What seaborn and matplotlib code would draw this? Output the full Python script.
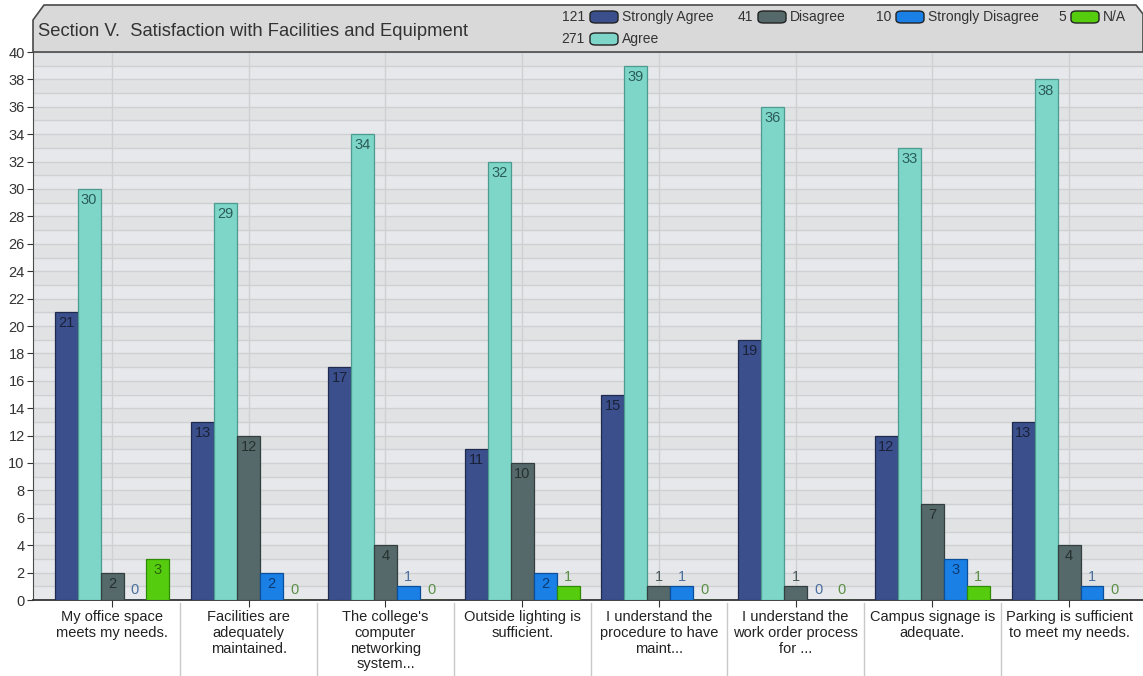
import matplotlib
matplotlib.use("Agg")
import matplotlib.pyplot as plt
import matplotlib.transforms as mtransforms
from matplotlib.patches import Polygon, FancyBboxPatch
import seaborn as sns
import pandas as pd

# data
categories = [
    "My office space\nmeets my needs.",
    "Facilities are\nadequately\nmaintained.",
    "The college's\ncomputer\nnetworking\nsystem...",
    "Outside lighting is\nsufficient.",
    "I understand the\nprocedure to have\nmaint...",
    "I understand the\nwork order process\nfor ...",
    "Campus signage is\nadequate.",
    "Parking is sufficient\nto meet my needs.",
]
series = ["Strongly Agree", "Agree", "Disagree", "Strongly Disagree", "N/A"]
strongly_agree = [21, 13, 17, 11, 15, 19, 12, 13]
agree = [30, 29, 34, 32, 39, 36, 33, 38]
disagree = [2, 12, 4, 10, 1, 1, 7, 4]
strongly_disagree = [0, 2, 1, 2, 1, 0, 3, 1]
na = [3, 0, 0, 1, 0, 0, 1, 0]
title = "Section V.  Satisfaction with Facilities and Equipment"

values = dict(zip(series, [strongly_agree, agree, disagree, strongly_disagree, na]))
rows = []
for s in series:
    for c, v in zip(categories, values[s]):
        rows.append({"question": c, "response": s, "count": v})
df = pd.DataFrame(rows)

colors = {"Strongly Agree": "#3a4f8c", "Agree": "#7dd6c8", "Disagree": "#56696a",
          "Strongly Disagree": "#1a80e6", "N/A": "#55cc0e"}
edges = {"Strongly Agree": "#1f2a4e", "Agree": "#4c9a90", "Disagree": "#333f3f",
         "Strongly Disagree": "#0b4f9a", "N/A": "#2f8a05"}
inside_txt = {"Strongly Agree": "#1a2138", "Agree": "#2c5c58", "Disagree": "#26302f",
              "Strongly Disagree": "#0a3a74", "N/A": "#2a6508"}
outside_txt = {"Strongly Agree": "#3a4f8c", "Agree": "#3f8a80", "Disagree": "#4a5857",
               "Strongly Disagree": "#4a6e9e", "N/A": "#5b8f45"}

plt.rcParams['font.family'] = ['Liberation Sans', 'DejaVu Sans']

W, H = 1143, 676
fig = plt.figure(figsize=(W / 100, H / 100), dpi=100)
fig.patch.set_facecolor("white")


def fx(x):
    return x / W


def fy(y):
    return 1 - y / H


# header band with bevelled corners
hdr = [(33, 52), (33, 20), (44, 5), (1136, 5), (1143, 14), (1143, 52)]
fig.patches.append(Polygon([(fx(x), fy(y)) for x, y in hdr], closed=True,
                           transform=fig.transFigure, facecolor="#d9d9d9",
                           edgecolor="#4a4a4a", lw=1.2, zorder=0))
fig.text(fx(38), fy(31), title, fontsize=13.2, color="#333333", va="center", ha="left")

# legend in header
totals = {s: sum(values[s]) for s in series}
legend_pos = {"Strongly Agree": (585, 17), "Disagree": (753, 17),
              "Strongly Disagree": (891, 17), "N/A": (1066, 17), "Agree": (585, 39)}
for s in series:
    x, y = legend_pos[s]
    fig.text(fx(x), fy(y), str(totals[s]), fontsize=10, color="#333333",
             ha="right", va="center")
    fig.patches.append(FancyBboxPatch((fx(x + 5), fy(y + 6)), fx(28), 12 / H,
                                      boxstyle="round,pad=0,rounding_size=0.005",
                                      transform=fig.transFigure, facecolor=colors[s],
                                      edgecolor="#222222", lw=1.0, zorder=2))
    fig.text(fx(x + 37), fy(y), s, fontsize=10, color="#333333", ha="left", va="center")

ax = fig.add_axes([fx(33), fy(600), fx(1110), 548 / H])
ax.set_facecolor("#e4e6e9")
for k in range(40):
    ax.axhspan(k, k + 1, color="#e6e8eb" if k % 2 == 0 else "#e1e2e4", lw=0, zorder=0)

sns.barplot(data=df, x="question", y="count", hue="response", order=categories,
            hue_order=series, palette=colors, width=0.84, saturation=1,
            legend=False, ax=ax, zorder=3)

for cont, s in zip(ax.containers, series):
    for bar, v in zip(cont, values[s]):
        bar.set_edgecolor(edges[s])
        bar.set_linewidth(0.9)
        xc = bar.get_x() + bar.get_width() / 2
        if v >= 2:
            ax.annotate(str(v), (xc, v), xytext=(0, -3), textcoords="offset points",
                        ha="center", va="top", fontsize=10.5, color=inside_txt[s], zorder=5)
        else:
            ax.annotate(str(v), (xc, v), xytext=(0, 2), textcoords="offset points",
                        ha="center", va="bottom", fontsize=10.5, color=outside_txt[s], zorder=5)

ax.set_xlim(-0.578, 7.541)
ax.set_ylim(0, 40)
ax.set_yticks(range(0, 41, 2))
ax.set_yticks(range(0, 41), minor=True)
ax.grid(which="both", axis="y", color="#cfd0d2", lw=1, zorder=1)
ax.grid(which="major", axis="x", color="#cfd0d2", lw=1, zorder=1)
ax.set_axisbelow(True)

ax.set_xticks(range(len(categories)))
ax.set_xticklabels(categories, fontsize=10.5, color="#222222", linespacing=1.15)
ax.tick_params(axis="x", which="major", length=5, color="#333333", pad=2.5)
ax.tick_params(axis="y", which="major", length=4, color="#333333", labelsize=10.5,
               labelcolor="#333333", pad=2)
ax.tick_params(axis="y", which="minor", length=0)
ax.set_xlabel("")
ax.set_ylabel("")
for side in ["top", "right"]:
    ax.spines[side].set_visible(False)
ax.spines["left"].set_color("#4a4a4a")
ax.spines["bottom"].set_color("#333333")
ax.spines["bottom"].set_linewidth(1.3)

# separators between the category labels
trans = mtransforms.blended_transform_factory(ax.transData, ax.transAxes)
for i in range(len(categories) - 1):
    ax.plot([i + 0.5, i + 0.5], [-0.005, -0.14], transform=trans, color="#c9c9c9",
            lw=1, clip_on=False)

fig.savefig("out.png", dpi=100)
